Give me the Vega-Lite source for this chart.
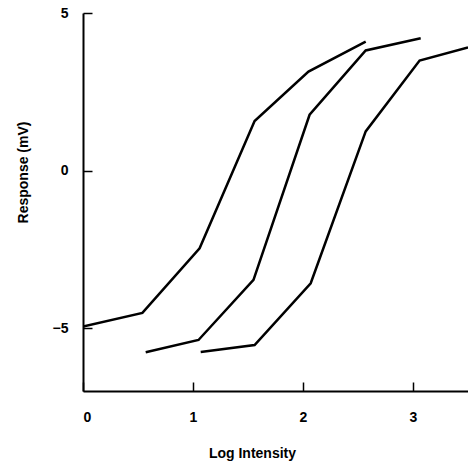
{
  "$schema": "https://vega.github.io/schema/vega-lite/v6.json",
  "width": 385,
  "height": 378,
  "autosize": {"type": "none"},
  "padding": {"left": 83, "top": 13, "right": 0, "bottom": 74},
  "background": "white",
  "config": {
    "view": {"stroke": null},
    "axis": {
      "grid": false,
      "domainColor": "black",
      "domainWidth": 2,
      "tickColor": "black",
      "tickWidth": 1.5,
      "labelFont": "Liberation Sans",
      "labelFontWeight": "bold",
      "labelFontSize": 14,
      "labelColor": "black",
      "titleFont": "Liberation Sans",
      "titleFontWeight": "bold",
      "titleFontSize": 14,
      "titleColor": "black"
    }
  },
  "data": {
    "values": [
      {"series": "A", "x": 0.0, "y": -4.95},
      {"series": "A", "x": 0.54, "y": -4.52},
      {"series": "A", "x": 1.06, "y": -2.47},
      {"series": "A", "x": 1.56, "y": 1.57},
      {"series": "A", "x": 2.05, "y": 3.14},
      {"series": "A", "x": 2.57, "y": 4.09},
      {"series": "B", "x": 0.57, "y": -5.77},
      {"series": "B", "x": 1.05, "y": -5.38},
      {"series": "B", "x": 1.55, "y": -3.47},
      {"series": "B", "x": 2.06, "y": 1.77},
      {"series": "B", "x": 2.57, "y": 3.81},
      {"series": "B", "x": 3.07, "y": 4.2},
      {"series": "C", "x": 1.07, "y": -5.76},
      {"series": "C", "x": 1.56, "y": -5.54},
      {"series": "C", "x": 2.07, "y": -3.58},
      {"series": "C", "x": 2.57, "y": 1.24},
      {"series": "C", "x": 3.06, "y": 3.49},
      {"series": "C", "x": 3.5, "y": 3.91}
    ]
  },
  "mark": {"type": "line", "color": "black", "strokeWidth": 2.5, "strokeJoin": "miter", "clip": true},
  "encoding": {
    "x": {
      "field": "x", "type": "quantitative",
      "scale": {"domain": [0, 3.5], "nice": false, "zero": false},
      "axis": {"values": [0, 1, 2, 3], "format": "d", "tickSize": -9, "labelPadding": 28, "title": "Log Intensity", "titleX": 169, "titleY": 62, "titleBaseline": "middle"}
    },
    "y": {
      "field": "y", "type": "quantitative",
      "scale": {"domain": [-7, 5], "nice": false, "zero": false},
      "axis": {"values": [-5, 0, 5], "format": "d", "tickSize": -9, "labelPadding": 24, "title": "Response (mV)", "titleX": -60, "titleY": 159, "titleBaseline": "middle"}
    },
    "detail": {"field": "series"}
  }
}
